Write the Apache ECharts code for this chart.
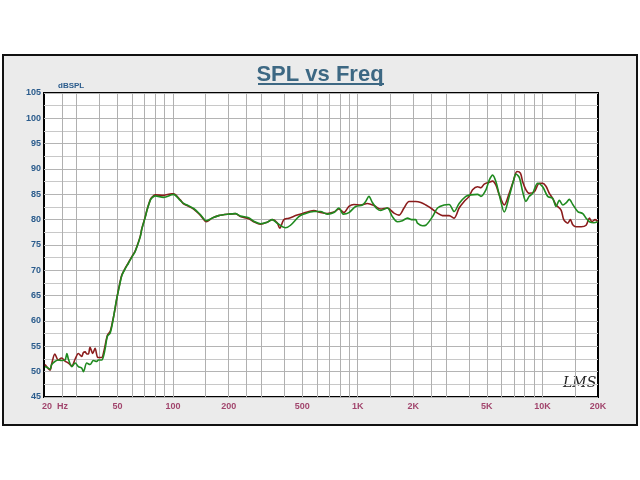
<!DOCTYPE html>
<html>
<head>
<meta charset="utf-8">
<script src="https://cdn.jsdelivr.net/npm/echarts@6/dist/echarts.min.js"></script>
<style>
  html, body { margin: 0; padding: 0; background: #fff; }
  #frame {
    position: absolute; left: 2px; top: 54px; width: 632px; height: 368px;
    background: #ebebeb; border: 2px solid #111;
  }
  #chart { position: absolute; left: 0; top: 0; width: 640px; height: 480px; }
</style>
</head>
<body>
<div id="frame"></div>
<div id="chart"></div>
<script>
// measured response, red trace
const redFreq = [20.25, 21.1, 21.6, 22.0, 22.9, 23.9, 24.9, 26.0, 27.1, 27.7, 28.3, 29.5, 30.7, 32.0, 32.7, 33.4, 34.1, 34.8, 35.5, 36.7, 37.8, 39.1, 40.0, 41.1, 42.3, 44.1, 45.6, 47.2, 48.6, 49.6, 51.7, 52.8, 55.0, 57.3, 59.8, 62.3, 63.7, 66.4, 67.8, 70.7, 72.2, 75.2, 76.8, 80.1, 88.8, 98.4, 100.5, 109.4, 114, 119, 129.2, 140.4, 151.4, 162.5, 176.5, 200, 217.4, 231.5, 256.8, 273.4, 297.2, 323.2, 344, 366.2, 378.3, 397.7, 423.4, 470.2, 510.6, 543.5, 578.6, 628.9, 683.9, 742.6, 790.5, 841.5, 896, 953.6, 1037, 1127, 1224, 1331, 1447, 1571, 1672, 1781, 1896, 2061, 2195, 2337, 2487, 2704, 2877, 3124, 3326, 3540, 3768, 4012, 4187, 4456, 4644, 4840, 5153, 5377, 5603, 5839, 6217, 6612, 6986, 7280, 7600, 7818, 8148, 8490, 9040, 9620, 10030, 10455, 10900, 11370, 11850, 12620, 13050, 13720, 14170, 14600, 15210, 16200, 17240, 17970, 18520, 19290, 19950];
const redSpl = [51.4, 50.6, 50.3, 51.5, 53.5, 52.3, 52.7, 52.1, 51.7, 51.4, 51.1, 52.5, 53.6, 53.0, 53.8, 53.9, 53.5, 53.5, 54.8, 53.6, 54.6, 52.8, 52.8, 52.8, 54.2, 57.2, 57.9, 60.2, 62.5, 64.5, 67.8, 69.1, 70.4, 71.5, 72.7, 73.8, 74.7, 76.7, 78.3, 80.6, 81.9, 83.9, 84.4, 84.9, 84.8, 85.1, 85.1, 83.9, 83.1, 82.8, 82.1, 80.9, 79.6, 80.3, 80.8, 81.1, 81.2, 80.6, 80.2, 79.6, 79.1, 79.5, 80.0, 79.4, 78.3, 80.0, 80.3, 80.9, 81.3, 81.6, 81.8, 81.4, 81.2, 81.5, 82.1, 81.4, 82.6, 83.0, 82.9, 83.2, 82.8, 82.1, 82.3, 81.3, 80.9, 82.3, 83.6, 83.6, 83.4, 82.9, 82.3, 81.3, 80.8, 80.8, 80.3, 82.3, 83.6, 84.6, 85.9, 86.5, 86.3, 87.0, 87.4, 87.6, 86.8, 84.9, 82.9, 85.2, 87.8, 89.5, 89.2, 87.5, 85.9, 85.2, 85.5, 87.2, 87.2, 86.6, 85.2, 84.2, 82.9, 81.9, 80.0, 79.3, 80.0, 79.0, 78.6, 78.6, 78.9, 80.3, 79.6, 80.0, 79.6];

// measured response, green trace
const greenFreq = [20.25, 21.1, 21.6, 22.0, 22.9, 23.9, 24.9, 26.0, 26.6, 27.1, 28.3, 29.5, 30.7, 32.0, 32.7, 34.1, 35.5, 37.0, 38.6, 39.4, 41.1, 42.3, 42.9, 44.1, 45.6, 47.2, 48.6, 49.6, 51.7, 52.8, 55.0, 57.3, 59.8, 62.3, 63.7, 66.4, 67.8, 70.7, 72.2, 75.2, 76.8, 80.1, 88.8, 98.4, 100.5, 109.4, 114, 119, 129.2, 140.4, 151.4, 162.5, 176.5, 200, 217.4, 231.5, 256.8, 273.4, 297.2, 323.2, 344, 366.2, 406.2, 432.5, 479.6, 510.6, 578.6, 628.9, 683.9, 742.6, 790.5, 835.1, 896, 974, 1059, 1104, 1150, 1200, 1277, 1331, 1447, 1540, 1640, 1745, 1858, 1978, 2061, 2105, 2242, 2337, 2541, 2704, 2936, 3124, 3326, 3540, 3849, 4098, 4456, 4644, 4944, 5153, 5377, 5603, 5839, 6217, 6612, 6986, 7190, 7500, 7818, 8148, 8490, 8860, 9430, 10030, 10680, 11370, 11850, 12350, 12890, 13430, 13990, 14600, 15540, 16540, 17240, 17970, 18990, 19950];
const greenSpl = [51.0, 50.7, 50.5, 51.4, 52.0, 52.3, 52.2, 52.3, 53.6, 52.5, 51.0, 51.7, 51.0, 50.7, 50.0, 51.7, 51.4, 52.2, 52.0, 52.3, 52.3, 53.5, 54.6, 57.0, 57.6, 60.0, 62.8, 64.5, 67.6, 69.0, 70.3, 71.4, 72.6, 73.7, 74.6, 76.6, 78.2, 80.5, 81.8, 83.8, 84.3, 84.7, 84.4, 84.9, 85.0, 83.8, 83.2, 82.9, 82.2, 81.0, 79.8, 80.3, 80.8, 81.1, 81.2, 80.7, 80.4, 79.7, 79.2, 79.5, 80.0, 79.3, 78.4, 78.9, 80.6, 81.1, 81.6, 81.6, 81.1, 81.4, 82.3, 81.1, 81.4, 82.6, 82.9, 83.6, 84.6, 83.4, 82.1, 81.8, 82.3, 80.6, 79.6, 79.8, 80.3, 80.0, 80.0, 79.3, 78.8, 78.9, 80.6, 82.3, 82.9, 83.0, 81.6, 83.2, 84.6, 84.9, 85.0, 84.6, 85.9, 87.8, 88.8, 87.5, 84.9, 81.5, 84.6, 87.8, 89.0, 88.3, 85.5, 83.6, 84.6, 85.2, 87.2, 86.5, 84.6, 84.2, 82.6, 83.8, 82.9, 83.3, 84.0, 83.0, 81.6, 81.2, 80.3, 79.6, 79.4, 79.6];

// frequency grid and labels
const gridFreqs = [25, 30, 40, 50, 60, 70, 80, 90, 100, 150, 200, 250, 300, 400, 500, 600, 700, 800, 900, 1000, 1500, 2000, 2500, 3000, 4000, 5000, 6000, 7000, 8000, 9000, 10000, 15000];
const labelFreqs = [20, 50, 100, 200, 500, 1000, 2000, 5000, 10000, 20000];
const labelText = ['20  Hz', '50', '100', '200', '500', '1K', '2K', '5K', '10K', '20K'];

const chart = echarts.init(document.getElementById('chart'));

const gridLines = gridFreqs.map(f => ({ xAxis: f }));
const tickLabels = labelFreqs.map((f, i) => ({
  value: [f, 45],
  label: i === 0 ? { formatter: labelText[i], align: 'left', offset: [-2, 0] } : { formatter: labelText[i] }
}));

chart.setOption({
  animation: false,
  backgroundColor: 'transparent',
  title: {
    text: 'SPL vs Freq',
    left: 'center',
    top: 59,
    textStyle: { fontFamily: 'Liberation Sans', fontSize: 22, fontWeight: 'bold', color: '#3d6883' }
  },
  graphic: [
    { type: 'line', shape: { x1: 258, y1: 84, x2: 384, y2: 84 }, style: { stroke: '#3d6883', lineWidth: 2 } },
    { type: 'text', left: 563, top: 376, style: { text: 'LMS', font: 'italic 14px "DejaVu Serif"', fill: '#222' } }
  ],
  grid: {
    left: 44, right: 42, top: 93, bottom: 83,
    show: true, backgroundColor: '#fff', borderColor: '#000', borderWidth: 2
  },
  xAxis: {
    type: 'log',
    logBase: 10,
    min: 20,
    max: 20000,
    axisLine: { show: false },
    axisTick: { show: false },
    axisLabel: { show: false },
    splitLine: { show: false }
  },
  yAxis: {
    type: 'value',
    min: 45,
    max: 105,
    interval: 5,
    name: 'dBSPL',
    nameLocation: 'end',
    nameGap: 3,
    nameTextStyle: { align: 'left', padding: [0, 0, 0, 14], fontFamily: 'Liberation Sans', fontSize: 8, fontWeight: 'bold', color: '#2a5b8c' },
    axisLine: { show: false },
    axisTick: { show: false },
    axisLabel: { margin: 3, fontFamily: 'Liberation Sans', fontSize: 9, fontWeight: 'bold', color: '#2a5b8c' },
    splitLine: { lineStyle: { color: '#b4b4b4', width: 1 } },
    minorTick: { show: false, splitNumber: 2 },
    minorSplitLine: { show: true, lineStyle: { color: '#c8c8c8', width: 1 } }
  },
  series: [
    {
      type: 'line',
      name: 'ch1',
      data: redFreq.map((f, i) => [f, redSpl[i]]),
      showSymbol: false,
      smooth: 0.3,
      lineStyle: { color: '#8b1c1c', width: 1.6 },
      z: 3,
      markLine: {
        silent: true,
        symbol: 'none',
        lineStyle: { color: '#b0b0b0', width: 1, type: 'solid' },
        label: { show: false },
        data: gridLines,
        z: 1
      }
    },
    {
      type: 'line',
      name: 'ch2',
      data: greenFreq.map((f, i) => [f, greenSpl[i]]),
      showSymbol: false,
      smooth: 0.3,
      lineStyle: { color: '#1f8a1f', width: 1.6 },
      z: 4
    },
    {
      type: 'scatter',
      name: 'ticks',
      data: tickLabels,
      symbolSize: 1,
      clip: false,
      silent: true,
      itemStyle: { color: 'rgba(0,0,0,0)' },
      label: {
        show: true,
        position: 'bottom',
        distance: 5,
        fontFamily: 'Liberation Sans',
        fontSize: 9,
        fontWeight: 'bold',
        color: '#8e1a4c'
      },
      z: 5
    }
  ]
});
</script>
</body>
</html>
